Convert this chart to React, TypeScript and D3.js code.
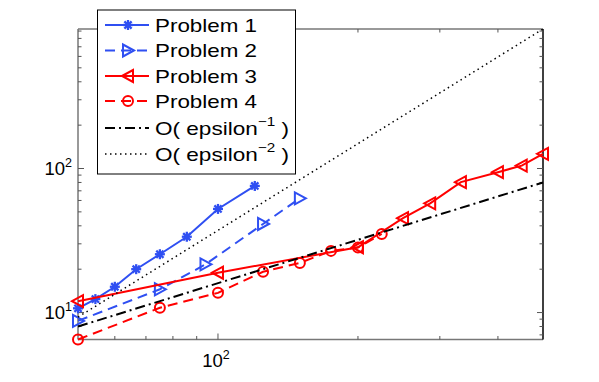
import React from 'react';
import * as d3 from 'd3';

// values (log-log)
const refX = [50, 500];
const p1x = [50, 54.5, 60, 66.7, 75, 85.7, 100, 120];
const p1y = [10.7, 12.4, 15.1, 20.0, 25.4, 33.6, 52.4, 75.7];
const p2x = [50, 75, 94, 125, 150];
const p2y = [8.75, 14.5, 21.6, 41.2, 62.1];
const p3x = [50, 100, 200, 250, 286, 333, 400, 450, 500];
const p3y = [12.0, 18.9, 28.4, 45.2, 57.3, 80.4, 94.3, 104.7, 126.4];
const p4x = [50, 75, 100, 125, 150, 175, 200, 225];
const p4y = [6.5, 10.8, 13.7, 19.2, 22.1, 26.8, 28.3, 35.1];
const eps1 = [8, 80];
const eps2 = [9.3, 930];

const xMajor = [100];
const xMinor = [60, 70, 80, 90, 200, 300, 400];
const yMajor = [10, 100];
const yMinor = [7, 8, 9, 20, 30, 40, 50, 60, 70, 80, 90, 200, 300, 400, 500, 600, 700, 800, 900];

const BLUE = '#2f4ff2';
const RED = '#ff0000';

const series = [
  { name: 'Problem 1', xs: p1x, ys: p1y, color: BLUE, dash: null, marker: 'star', w: 2 },
  { name: 'Problem 2', xs: p2x, ys: p2y, color: BLUE, dash: '10,6', marker: 'tri-right', w: 2 },
  { name: 'Problem 3', xs: p3x, ys: p3y, color: RED, dash: null, marker: 'tri-left', w: 2 },
  { name: 'Problem 4', xs: p4x, ys: p4y, color: RED, dash: '10,6', marker: 'circle', w: 2 },
  { name: 'eps1', xs: refX, ys: eps1, color: '#000', dash: '10,4,2,4', marker: null, w: 2 },
  { name: 'eps2', xs: refX, ys: eps2, color: '#000', dash: '1.5,3.5', marker: null, w: 1.5 },
];

const Marker = ({ kind, x, y, color }: any) => {
  if (kind === 'star') {
    const r = 5;
    const d = r * 0.72;
    return (
      <g stroke={color} strokeWidth={2.3}>
        <line x1={x - r} y1={y} x2={x + r} y2={y} />
        <line x1={x} y1={y - r} x2={x} y2={y + r} />
        <line x1={x - d} y1={y - d} x2={x + d} y2={y + d} />
        <line x1={x - d} y1={y + d} x2={x + d} y2={y - d} />
      </g>
    );
  }
  if (kind === 'tri-right') {
    const pts = [[x + 6, y], [x - 5, y - 6], [x - 5, y + 6]];
    return <polygon points={pts.map(p => p.join(',')).join(' ')} fill="none" stroke={color} strokeWidth={2} />;
  }
  if (kind === 'tri-left') {
    const pts = [[x - 6, y], [x + 5, y - 6], [x + 5, y + 6]];
    return <polygon points={pts.map(p => p.join(',')).join(' ')} fill="none" stroke={color} strokeWidth={2} />;
  }
  if (kind === 'circle') {
    return <circle cx={x} cy={y} r={5} fill="none" stroke={color} strokeWidth={2} />;
  }
  return null;
};

const App = () => {
  const width = 599;
  const height = 382;
  const x = d3.scaleLog().domain([50, 500]).range([78, 543]);
  const y = d3.scaleLog().domain([6.5, 930]).range([339.5, 29]);
  const line = d3.line<[number, number]>().x(d => x(d[0])).y(d => y(d[1]));

  const left = x.range()[0], right = x.range()[1];
  const top = y.range()[1], bottom = y.range()[0];
  const font = 'Liberation Sans, Arial, Helvetica, sans-serif';

  const legendRows = [25, 50.5, 76, 101, 128, 154];
  const legendText = [
    { t: 'Problem 1', sup: null, len: 102 },
    { t: 'Problem 2', sup: null, len: 102 },
    { t: 'Problem 3', sup: null, len: 102 },
    { t: 'Problem 4', sup: null, len: 102 },
    { t: 'O( epsilon', sup: '\u22121', len: 134 },
    { t: 'O( epsilon', sup: '\u22122', len: 134 },
  ];

  return (
    <svg width={width} height={height} style={{ position: 'absolute', left: 0, top: 0, background: '#fff' }} fontFamily={font}>
      <rect width={width} height={height} fill="#fff" />

      {/* axes box */}
      <line x1={left} y1={bottom} x2={right} y2={bottom} stroke="#777" strokeWidth={1.5} />
      <line x1={left} y1={top} x2={right} y2={top} stroke="#777" strokeWidth={1.5} />
      <line x1={left} y1={top} x2={left} y2={bottom} stroke="#777" strokeWidth={1.5} />
      <line x1={right} y1={top} x2={right} y2={bottom} stroke="#000" strokeWidth={1.5} />

      {/* ticks */}
      {xMajor.concat(xMinor).map((v, i) => {
        const L = xMajor.includes(v) ? 6 : 3.5;
        return (
          <g key={'xt' + i} stroke="#555" strokeWidth={1}>
            <line x1={x(v)} x2={x(v)} y1={bottom} y2={bottom - L} />
            <line x1={x(v)} x2={x(v)} y1={top} y2={top + L} />
          </g>
        );
      })}
      {yMajor.concat(yMinor).map((v, i) => {
        const L = yMajor.includes(v) ? 6 : 3.5;
        return (
          <g key={'yt' + i} stroke="#555" strokeWidth={1}>
            <line x1={left} x2={left + L} y1={y(v)} y2={y(v)} />
            <line x1={right} x2={right - L} y1={y(v)} y2={y(v)} />
          </g>
        );
      })}

      {/* tick labels */}
      {xMajor.map((v, i) => (
        <text key={'xl' + i} x={x(v) - 2} y={367} textAnchor="middle" fontSize={18.5} fill="#000">
          10<tspan fontSize={12.5} dy={-8}>{Math.round(Math.log10(v))}</tspan>
        </text>
      ))}
      {yMajor.map((v, i) => (
        <text key={'yl' + i} x={72} y={y(v) + 6} textAnchor="end" fontSize={18.5} fill="#000">
          10<tspan fontSize={12.5} dy={-8}>{Math.round(Math.log10(v))}</tspan>
        </text>
      ))}

      {/* series */}
      {series.map((s, i) => {
        const pts = s.xs.map((v, j) => [v, s.ys[j]] as [number, number]);
        return (
          <g key={'s' + i}>
            <path d={line(pts) || ''} fill="none" stroke={s.color} strokeWidth={s.w}
              strokeDasharray={s.dash || undefined} />
            {s.marker && pts.map((p, j) => (
              <Marker key={j} kind={s.marker} x={x(p[0])} y={y(p[1])} color={s.color} />
            ))}
          </g>
        );
      })}

      {/* legend */}
      <rect x={97.5} y={10} width={198} height={164} fill="#fff" stroke="#000" strokeWidth={1} />
      {series.map((s, i) => {
        const ly = legendRows[i];
        const lt = legendText[i];
        return (
          <g key={'lg' + i}>
            <line x1={105} x2={149} y1={ly} y2={ly} stroke={s.color} strokeWidth={s.w}
              strokeDasharray={s.dash || undefined} />
            {s.marker && <Marker kind={s.marker} x={128} y={ly} color={s.color} />}
            <text x={155} y={ly + 6.5} fontSize={18.5} fill="#000" textLength={lt.len} lengthAdjust="spacingAndGlyphs">
              {lt.t}
              {lt.sup && <tspan fontSize={12.5} dy={-9}>{lt.sup}</tspan>}
              {lt.sup && <tspan dy={9}>{' )'}</tspan>}
            </text>
          </g>
        );
      })}
    </svg>
  );
};

export default App;
